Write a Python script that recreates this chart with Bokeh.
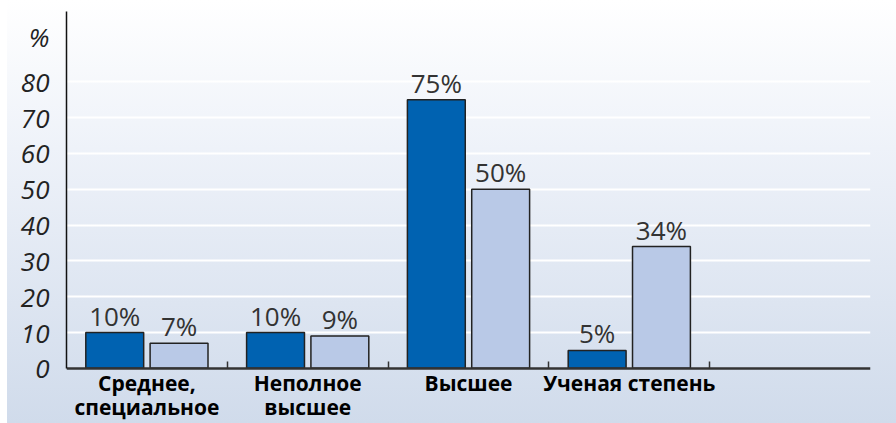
from bokeh.plotting import figure
from bokeh.models import Range1d, FixedTicker
from bokeh.core.properties import value
from bokeh.embed import file_html
from bokeh.resources import INLINE

categories = ["Среднее,\nспециальное", "Неполное\nвысшее", "Высшее", "Ученая степень"]
series_dark = [10, 10, 75, 5]
series_light = [7, 9, 50, 34]
y_ticks = [0, 10, 20, 30, 40, 50, 60, 70, 80]

Y_TOP = 99.6
Y_BOTTOM = -15.4   # room under the zero line for the category labels

p = figure(width=889, height=423, output_backend="svg", toolbar_location=None,
           x_range=Range1d(0, 5), y_range=Range1d(Y_BOTTOM, Y_TOP),
           min_border_left=59, min_border_right=26, min_border_top=11, min_border_bottom=0)
p.styles = {"background": "linear-gradient(to bottom, #ffffff 0%, #eef2f9 35%, #d0dbeb 100%)",
            "margin-left": "7px"}
p.border_fill_color = None
p.background_fill_color = None
p.outline_line_color = None

idx = list(range(len(categories)))
xd = [i + 0.3 for i in idx]
xl = [i + 0.7 for i in idx]
centers = [i + 0.5 for i in idx]

p.vbar(x=xd, top=series_dark, width=0.36, fill_color="#0062b1", line_color="#222222", line_width=1.5)
p.vbar(x=xl, top=series_light, width=0.36, fill_color="#b9c9e7", line_color="#222222", line_width=1.5)

p.text(x=xd + xl, y=series_dark + series_light,
       text=[f"{v}%" for v in series_dark + series_light],
       text_font=value("Open Sans"), text_font_size="26px", text_color="#333333",
       text_align="center", text_baseline="alphabetic", y_offset=-17)

# category labels under the zero line
p.text(x=centers, y=[0] * len(centers), text=categories,
       text_font=value("Open Sans"), text_font_style="bold", text_font_size="21px",
       text_color="#000000", text_align="center", text_baseline="top",
       text_line_height=0.85, y_offset=1)

# y axis
pct_pos = 92.5
p.yaxis.ticker = FixedTicker(ticks=y_ticks + [pct_pos])
p.yaxis.major_label_overrides = {pct_pos: "%"}
p.yaxis.bounds = (0, Y_TOP)
p.yaxis.major_label_text_font = "Open Sans"
p.yaxis.major_label_text_font_style = "italic"
p.yaxis.major_label_text_font_size = "26px"
p.yaxis.major_label_text_color = "#222222"
p.yaxis.major_label_standoff = 11
p.yaxis.major_tick_line_color = None
p.yaxis.minor_tick_line_color = None
p.yaxis.axis_line_color = "#111111"
p.yaxis.axis_line_width = 1.5

# x axis drawn at zero, only boundary ticks
p.xaxis.fixed_location = 0
p.xaxis.ticker = FixedTicker(ticks=[], minor_ticks=[i + 1 for i in idx])
p.xaxis.major_label_text_font_size = "0px"
p.xaxis.major_tick_line_color = None
p.xaxis.minor_tick_in = 7
p.xaxis.minor_tick_out = 0
p.xaxis.minor_tick_line_color = "#333333"
p.xaxis.minor_tick_line_width = 1.5
p.xaxis.axis_line_color = "#333333"
p.xaxis.axis_line_width = 2.5

p.xgrid.grid_line_color = None
p.ygrid.ticker = FixedTicker(ticks=y_ticks[1:])
p.ygrid.grid_line_color = "#ffffff"
p.ygrid.grid_line_width = 2

open("out.html", "w").write(file_html(p, INLINE))
